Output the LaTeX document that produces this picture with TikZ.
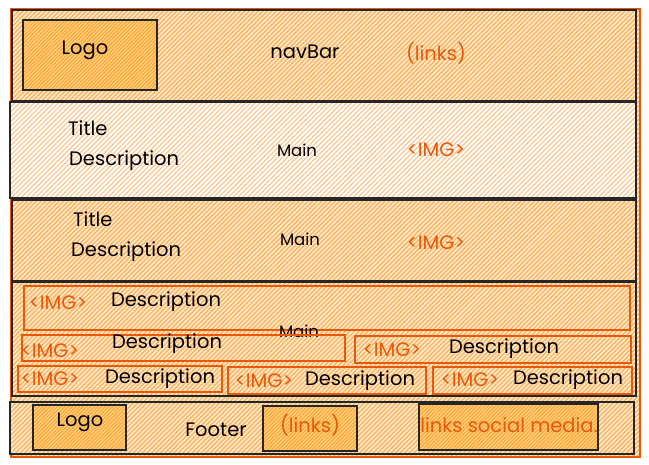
\documentclass[tikz,border=0pt]{standalone}
\usepackage{fontspec}
\setmainfont{Poppins}
\usetikzlibrary{patterns.meta}
\definecolor{ostroke}{HTML}{E8590C}
\definecolor{hatchc}{HTML}{FFB45C}
\definecolor{hatchpale}{HTML}{FFC285}
\definecolor{hatchdark}{HTML}{FFAA3C}
\definecolor{basec}{HTML}{FFEBD2}
\definecolor{basedark}{HTML}{FFD68C}
\tikzset{
  bx/.style={anchor=north west, inner sep=0pt, outer sep=0pt},
  hatch/.style={preaction={fill=basec}, pattern={Lines[angle=45,distance=3.2pt,line width=1.4pt]}, pattern color=hatchc},
  hatchpl/.style={preaction={fill=white}, pattern={Lines[angle=45,distance=3.4pt,line width=1.1pt]}, pattern color=hatchpale},
  hatchdk/.style={preaction={fill=basedark}, pattern={Lines[angle=45,distance=2.6pt,line width=1.4pt]}, pattern color=hatchdark},
  blk/.style={draw=black!85, line width=1.1pt},
  org/.style={draw=ostroke, line width=1.1pt},
  txt/.style={font=\fontsize{19.5}{22}\selectfont, text=black, inner sep=0pt},
  otxt/.style={font=\fontsize{19.5}{22}\selectfont, text=ostroke, inner sep=0pt},
  stxt/.style={font=\fontsize{16.5}{19}\selectfont, text=black, inner sep=0pt},
}
\begin{document}
\begin{tikzpicture}[x=1pt,y=-1pt]
\useasboundingbox (0,0) rectangle (649,464);
\fill[white] (0,0) rectangle (649,464);
% outer
\node[bx, org, hatch, minimum width=629pt, minimum height=448pt] (outer) at (11,9) {};
% navbar
\node[bx, blk, hatch, minimum width=624pt, minimum height=91pt] (nav) at (12,10) {};
\node[bx, blk, hatchdk, minimum width=134pt, minimum height=70pt] (logo) at (23,20) {};
\node[txt] (logot) at (85,50) {Logo};
\node[txt] (navt) at (305,52) {navBar};
\node[otxt] (navl) at (436,53) {(links)};
% main 1
\node[bx, blk, hatchpl, minimum width=626pt, minimum height=96pt] (main1) at (10,102) {};
\node[txt, anchor=west] (t1) at (68,128) {Title};
\node[txt, anchor=west] (d1) at (69,161) {Description};
\node[stxt] (m1) at (297,150) {Main};
\node[otxt] (i1) at (436,150) {<IMG>};
% main 2
\node[bx, blk, hatch, minimum width=624pt, minimum height=81pt] (main2) at (12,200) {};
\node[txt, anchor=west] (t2) at (73,219) {Title};
\node[txt, anchor=west] (d2) at (71,252) {Description};
\node[stxt] (m2) at (300,239) {Main};
\node[otxt] (i2) at (436,243) {<IMG>};
% main 3
\node[bx, blk, minimum width=624pt, minimum height=114pt] (main3) at (12,282) {};
\node[bx, org, minimum width=606pt, minimum height=44pt] (r1) at (24,286) {};
\node[otxt] (r1i) at (58,303) {<IMG>};
\node[txt] (r1d) at (166,302) {Description};
\node[stxt] (m3) at (299,331) {Main};
\node[bx, org, minimum width=323pt, minimum height=26pt] (r2a) at (22,335) {};
\node[otxt] (r2ai) at (50,351) {<IMG>};
\node[txt] (r2ad) at (167,344) {Description};
\node[bx, org, minimum width=276pt, minimum height=27pt] (r2b) at (355,336) {};
\node[otxt] (r2bi) at (392,350) {<IMG>};
\node[txt] (r2bd) at (504,349) {Description};
\node[bx, org, minimum width=204pt, minimum height=26pt] (r3a) at (18,366) {};
\node[otxt] (r3ai) at (50,379) {<IMG>};
\node[txt] (r3ad) at (160,379) {Description};
\node[bx, org, minimum width=198pt, minimum height=27pt] (r3b) at (228,367) {};
\node[otxt] (r3bi) at (264,381) {<IMG>};
\node[txt] (r3bd) at (360,381) {Description};
\node[bx, org, minimum width=199pt, minimum height=27pt] (r3c) at (433,367) {};
\node[otxt] (r3ci) at (470,380) {<IMG>};
\node[txt] (r3cd) at (568,380) {Description};
% footer
\node[bx, blk, hatch, minimum width=624pt, minimum height=52pt] (footer) at (10,402) {};
\node[bx, blk, hatchdk, minimum width=93pt, minimum height=45pt] (flogo) at (33,405) {};
\node[txt] (flogot) at (80,422) {Logo};
\node[txt] (foott) at (216,430) {Footer};
\node[bx, blk, hatchdk, minimum width=94pt, minimum height=45pt] (flinks) at (263,406) {};
\node[otxt] (flinkst) at (310,425) {(links)};
\node[bx, blk, hatchdk, minimum width=179pt, minimum height=46pt] (fsoc) at (419,404) {};
\node[otxt] (fsoct) at (509,425) {links social media.};
\end{tikzpicture}
\end{document}
